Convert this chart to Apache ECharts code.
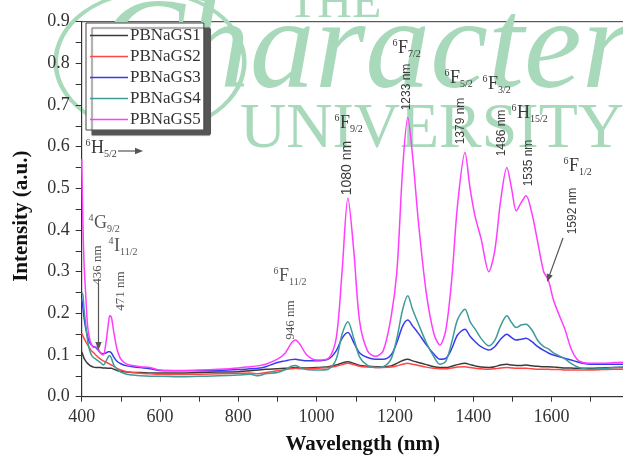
<!DOCTYPE html>
<html>
<head>
<meta charset="utf-8">
<script src="https://cdn.jsdelivr.net/npm/echarts@6.0.0/dist/echarts.min.js"></script>
<style>
  html, body { margin: 0; padding: 0; background: #fff; overflow: hidden; }
  #chart { width: 623px; height: 455px; }
</style>
</head>
<body>
<div id="chart"></div>
<script>
// ---- data ----
const wavelength = [400,403,406,410,415,420,425,430,436,442,448,455,462,468,472,476,482,490,500,515,530,550,575,600,650,700,750,800,830,850,870,900,920,935,946,958,975,1000,1030,1050,1065,1080,1095,1110,1130,1150,1170,1190,1205,1220,1233,1245,1260,1280,1300,1315,1330,1345,1360,1379,1392,1405,1420,1440,1455,1470,1486,1498,1510,1522,1535,1550,1565,1580,1592,1605,1620,1635,1650,1665,1680,1700,1730,1760,1790];

const seriesNames = ['PBNaGS1','PBNaGS2','PBNaGS3','PBNaGS4','PBNaGS5'];

const pbnags1 = [0.108,0.1,0.092,0.086,0.08,0.076,0.073,0.071,0.07,0.07,0.07,0.069,0.069,0.068,0.068,0.068,0.066,0.063,0.061,0.059,0.058,0.058,0.057,0.057,0.057,0.058,0.059,0.06,0.062,0.064,0.066,0.067,0.068,0.069,0.07,0.069,0.069,0.07,0.072,0.076,0.081,0.084,0.08,0.075,0.073,0.072,0.072,0.074,0.08,0.087,0.09,0.086,0.082,0.077,0.072,0.07,0.07,0.073,0.077,0.08,0.077,0.074,0.071,0.07,0.072,0.076,0.078,0.076,0.075,0.075,0.076,0.074,0.073,0.072,0.072,0.071,0.07,0.069,0.069,0.068,0.068,0.068,0.069,0.07,0.07];

const pbnags2 = [0.152,0.146,0.14,0.133,0.125,0.117,0.11,0.106,0.1,0.095,0.09,0.086,0.083,0.08,0.078,0.076,0.073,0.068,0.064,0.06,0.058,0.056,0.055,0.054,0.053,0.054,0.055,0.056,0.057,0.055,0.058,0.062,0.065,0.067,0.068,0.067,0.067,0.068,0.07,0.073,0.077,0.08,0.077,0.073,0.071,0.07,0.07,0.071,0.074,0.078,0.08,0.078,0.075,0.071,0.068,0.067,0.067,0.069,0.071,0.072,0.07,0.068,0.067,0.066,0.067,0.069,0.07,0.069,0.068,0.068,0.068,0.067,0.066,0.066,0.066,0.065,0.065,0.064,0.064,0.064,0.064,0.064,0.065,0.066,0.066];

const pbnags3 = [0.235,0.215,0.19,0.165,0.145,0.13,0.124,0.12,0.118,0.112,0.105,0.103,0.105,0.108,0.108,0.105,0.095,0.085,0.079,0.074,0.072,0.07,0.067,0.063,0.062,0.062,0.063,0.065,0.067,0.068,0.072,0.082,0.086,0.089,0.09,0.088,0.086,0.086,0.09,0.11,0.14,0.154,0.13,0.105,0.094,0.09,0.09,0.1,0.13,0.17,0.184,0.17,0.152,0.125,0.102,0.09,0.092,0.115,0.148,0.162,0.145,0.132,0.12,0.112,0.12,0.138,0.15,0.142,0.136,0.138,0.14,0.132,0.12,0.111,0.105,0.1,0.096,0.092,0.088,0.084,0.08,0.078,0.078,0.078,0.078];

const pbnags4 = [0.25,0.245,0.21,0.175,0.135,0.112,0.1,0.094,0.09,0.086,0.082,0.076,0.085,0.096,0.098,0.092,0.076,0.066,0.059,0.054,0.052,0.05,0.049,0.049,0.048,0.049,0.05,0.052,0.054,0.05,0.055,0.058,0.065,0.073,0.075,0.07,0.065,0.064,0.066,0.09,0.15,0.18,0.14,0.095,0.075,0.07,0.072,0.09,0.14,0.21,0.242,0.21,0.175,0.13,0.095,0.078,0.085,0.13,0.185,0.21,0.18,0.162,0.14,0.122,0.135,0.17,0.194,0.178,0.166,0.172,0.174,0.16,0.135,0.12,0.115,0.105,0.098,0.09,0.08,0.072,0.068,0.066,0.067,0.07,0.072];

const pbnags5 = [0.57,0.42,0.32,0.25,0.17,0.14,0.125,0.118,0.12,0.115,0.105,0.1,0.13,0.175,0.195,0.19,0.155,0.115,0.09,0.078,0.075,0.072,0.07,0.064,0.063,0.064,0.066,0.069,0.072,0.074,0.078,0.09,0.105,0.128,0.136,0.125,0.1,0.088,0.092,0.14,0.3,0.476,0.35,0.18,0.11,0.097,0.11,0.19,0.3,0.55,0.67,0.58,0.42,0.25,0.15,0.124,0.16,0.28,0.46,0.586,0.5,0.432,0.38,0.3,0.35,0.47,0.55,0.5,0.446,0.465,0.482,0.44,0.37,0.3,0.28,0.232,0.195,0.16,0.115,0.09,0.082,0.08,0.08,0.082,0.083];

const allValues = [pbnags1, pbnags2, pbnags3, pbnags4, pbnags5];
const xTickLabels = [400, 600, 800, 1000, 1200, 1400, 1600];
const yTickLabels = ['0.0','0.1','0.2','0.3','0.4','0.5','0.6','0.7','0.8','0.9'];

// ---- styles ----
const colors = ['#3a3a3a', '#ff4545', '#3a3aee', '#3d9b98', '#ff3cff'];
const SERIF = 'Liberation Serif';
const SANS = 'Liberation Sans';
const WM = '#a9d9bb';
const ANN = '#3a3a3a';
const ANN2 = '#555555';

// ---- annotation helpers (pixel layout) ----
const mainW = { H: 13, F: 10, G: 13, I: 6 };
function term(x, top, sup, main, sub, color) {
  return [
    { type: 'text', x: x - 0.5, y: top - 1, z: 50, style: { text: sup, font: '10px ' + SERIF, fill: color, align: 'right', verticalAlign: 'top' } },
    { type: 'text', x: x, y: top, z: 50, style: { text: main, font: '18px ' + SERIF, fill: color, align: 'left', verticalAlign: 'top' } },
    { type: 'text', x: x + mainW[main], y: top + 10, z: 50, style: { text: sub, font: '10px ' + SERIF, fill: color, align: 'left', verticalAlign: 'top' } }
  ];
}
function vtext(cx, cy, txt, font, color) {
  return { type: 'text', x: cx, y: cy, rotation: Math.PI / 2, z: 50,
    style: { text: txt, font: font, fill: color, align: 'center', verticalAlign: 'middle' } };
}
function arrow(x1, y1, x2, y2, color) {
  const dx = x2 - x1, dy = y2 - y1, L = Math.hypot(dx, dy);
  const ux = dx / L, uy = dy / L, px = -uy, py = ux;
  const hl = 8, hw = 3.2;
  return [
    { type: 'line', z: 50, shape: { x1: x1, y1: y1, x2: x2 - ux * 6, y2: y2 - uy * 6 }, style: { stroke: color, lineWidth: 1.2 } },
    { type: 'polygon', z: 50, shape: { points: [[x2, y2], [x2 - ux * hl + px * hw, y2 - uy * hl + py * hw], [x2 - ux * hl - px * hw, y2 - uy * hl - py * hw]] }, style: { fill: color } }
  ];
}

const graphics = [].concat(
  // watermark
  [
    { type: 'text', x: 288, y: 28, z: 0, silent: true, style: { text: 'THE', font: '48px ' + SERIF, fill: WM, align: 'left', verticalAlign: 'bottom' } },
    { type: 'text', x: 98, y: 118, z: 0, silent: true, style: { text: 'Character', font: 'italic 130px ' + SERIF, fill: WM, align: 'left', verticalAlign: 'bottom' } },
    { type: 'text', x: 240, y: 162, z: 0, silent: true, style: { text: 'UNIVERSITY', font: '64px ' + SERIF, fill: WM, align: 'left', verticalAlign: 'bottom' } },
    { type: 'circle', x: 150, y: 62, scaleX: 1.15, scaleY: 0.85, z: 0, silent: true, shape: { cx: 0, cy: 0, r: 82 }, style: { fill: 'none', stroke: WM, lineWidth: 4 } }
  ],
  term(91, 139, '6', 'H', '5/2', ANN),
  // legend drop shadow (L-shaped strip outside the legend box)
  [{ type: 'polygon', z: 50, shape: { points: [[205, 29], [211, 29], [211, 134], [92, 134], [92, 130], [205, 130]] }, style: { fill: '#555555' } }],
  arrow(118, 151, 143, 151, ANN2),
  term(94, 214, '4', 'G', '9/2', ANN2),
  vtext(98, 265, '436 nm', '13px ' + SERIF, ANN2),
  arrow(98.5, 284, 98.5, 350, ANN2),
  term(114, 237, '4', 'I', '11/2', ANN2),
  vtext(121, 291, '471 nm', '13px ' + SERIF, ANN2),
  term(279, 267, '6', 'F', '11/2', ANN2),
  vtext(291, 320, '946 nm', '13px ' + SERIF, ANN2),
  term(340, 114, '6', 'F', '9/2', ANN),
  vtext(347, 168, '1080 nm', '14px ' + SANS, ANN),
  term(398, 39, '6', 'F', '7/2', ANN),
  vtext(407, 87, '1233 nm', '12px ' + SANS, ANN),
  term(450, 69, '6', 'F', '5/2', ANN),
  vtext(461, 121, '1379 nm', '12px ' + SANS, ANN),
  term(488, 75, '6', 'F', '3/2', ANN),
  vtext(502, 133, '1486 nm', '12px ' + SANS, ANN),
  term(517, 104, '6', 'H', '15/2', ANN),
  vtext(529, 163, '1535 nm', '12px ' + SANS, ANN),
  term(569, 157, '6', 'F', '1/2', ANN),
  vtext(573, 211, '1592 nm', '12px ' + SANS, ANN),
  arrow(563, 238, 547, 282, ANN2)
);

const chart = echarts.init(document.getElementById('chart'), null, { renderer: 'canvas' });
chart.setOption({
  animation: false,
  backgroundColor: '#fff',
  grid: { left: 81.7, width: 548.1, top: 21.7, height: 375, outerBoundsMode: 'none', containLabel: false,
          show: true, borderColor: '#333', borderWidth: 1, backgroundColor: 'transparent' },
  legend: {
    orient: 'vertical', left: 86, top: 23,
    data: seriesNames,
    icon: 'rect',
    itemWidth: 38, itemHeight: 1.6, itemGap: 4,
    padding: [4, 3, 2, 4],
    backgroundColor: '#fff', borderColor: '#444', borderWidth: 1,
    shadowColor: '#555555', shadowBlur: 1, shadowOffsetX: 6, shadowOffsetY: 5,
    textStyle: { fontFamily: SERIF, fontSize: 17, color: '#333', padding: [0, 0, 0, -3], lineHeight: 17 },
    z: 20
  },
  xAxis: {
    type: 'value', min: 400, max: 1800, interval: 100,
    name: 'Wavelength (nm)', nameLocation: 'middle', nameGap: 37,
    nameTextStyle: { fontFamily: SERIF, fontWeight: 'bold', fontSize: 21, color: '#111', padding: [0, 0, 0, 14] },
    axisLine: { lineStyle: { color: '#333', width: 1 } },
    axisTick: { length: 5, lineStyle: { color: '#333' } },
    splitLine: { show: false },
    axisLabel: {
      margin: 12, fontFamily: SERIF, fontSize: 18, color: '#333',
      formatter: v => (xTickLabels.indexOf(v) >= 0 ? String(v) : '')
    }
  },
  yAxis: {
    type: 'value', min: 0, max: 0.9, interval: 0.05,
    name: 'Intensity (a.u.)', nameLocation: 'middle', nameGap: 50,
    nameTextStyle: { fontFamily: SERIF, fontWeight: 'bold', fontSize: 21, color: '#111', padding: [0, 14, 0, 0] },
    axisLine: { show: true, lineStyle: { color: '#333', width: 1 } },
    axisTick: { show: true, length: 6, lineStyle: { color: '#333' } },
    splitLine: { show: false },
    axisLabel: {
      margin: 12, fontFamily: SERIF, fontSize: 18, color: '#333',
      formatter: v => { const s = v.toFixed(1); return (Math.abs(v * 10 - Math.round(v * 10)) < 1e-6 && yTickLabels.indexOf(s) >= 0) ? s : ''; }
    }
  },
  series: seriesNames.map((name, i) => ({
    name: name, type: 'line', symbol: 'none', smooth: 0.3, z: 10,
    lineStyle: { color: colors[i], width: 1.5 },
    itemStyle: { color: colors[i] },
    data: wavelength.map((w, j) => [w, allValues[i][j]])
  })),
  graphic: graphics
});
</script>
</body>
</html>
